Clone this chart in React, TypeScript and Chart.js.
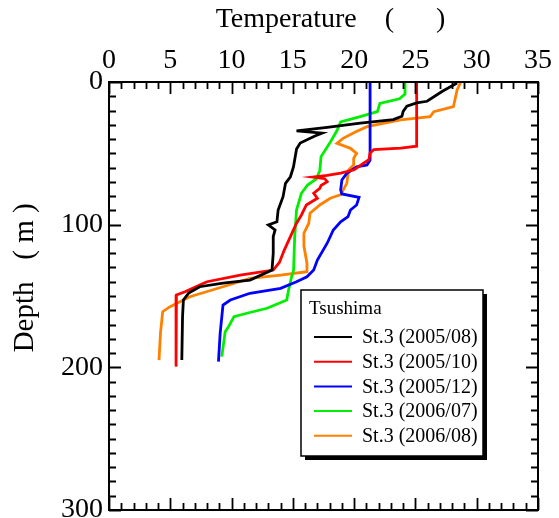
import React, { useEffect, useRef } from 'react';
import { Chart, registerables } from 'chart.js';

Chart.register(...registerables);

// ---- data (depth in m, temperature in °C) ----
const legendTitle = 'Tsushima';
const seriesLabels = ['St.3 (2005/08)', 'St.3 (2005/10)', 'St.3 (2005/12)', 'St.3 (2006/07)', 'St.3 (2006/08)'];
const seriesColors = ['#000000', '#ff0000', '#0000ff', '#00ee00', '#ff8000'];

const depth200508 = [0.7, 6.5, 13.5, 14.7, 17, 20.6, 24, 26.4, 28.8, 31.8, 34.3, 35.8, 37.9, 42.8, 46.9, 59.6, 66.4, 71, 80.4, 89.7, 98, 100.2, 103.7, 108.4, 120, 131.8, 138.8, 141, 143.5, 148, 152.8, 164.5, 194.9];
const temp200508 = [28.4, 27.2, 25.95, 25.1, 24.3, 24.0, 23.9, 23.2, 20.5, 17.8, 15.3, 17.4, 16.8, 15.6, 15.3, 15.05, 14.8, 14.4, 14.2, 13.8, 13.7, 13.0, 13.55, 13.4, 13.4, 13.3, 11.5, 9.3, 7.4, 6.5, 6.07, 6.0, 5.94];

const depth200510 = [0, 45, 46.3, 47.4, 49.8, 54.5, 61.5, 63.8, 65.4, 66.6, 67.8, 69.9, 72.5, 74.5, 78, 81.5, 86.2, 93.2, 99, 108.4, 117.8, 126.5, 131.8, 135.3, 140, 142.3, 147, 149.3, 164.5, 199.5];
const temp200510 = [25.1, 25.1, 23.8, 21.6, 21.3, 21.2, 20.0, 18.9, 17.8, 16.6, 17.6, 17.8, 17.3, 17.2, 16.7, 17.0, 16.1, 15.7, 15.3, 14.8, 14.3, 13.9, 13.4, 10.7, 8.0, 7.4, 6.2, 5.5, 5.47, 5.47];

const depth200512 = [0, 54.7, 58.2, 59.4, 64, 68.7, 75.7, 78.5, 80.9, 86.2, 89.7, 94.4, 98, 103.7, 113, 124.8, 131.8, 136.5, 140, 144.6, 148.1, 152.8, 156.3, 176, 196];
const temp200512 = [21.3, 21.3, 21.05, 20.2, 19.4, 19.0, 18.9, 19.0, 20.4, 20.2, 19.7, 19.5, 18.9, 18.3, 17.8, 17.0, 16.7, 16.15, 15.3, 14.0, 11.5, 9.9, 9.3, 9.07, 8.93];

const depth200607 = [0, 8.5, 11.8, 15, 20.8, 24.3, 28, 34, 43, 52.3, 62, 68, 72.2, 78, 83.9, 89.7, 108.4, 131.8, 136.5, 145.8, 152.8, 158.6, 162.1, 164.5, 171.5, 175, 192.5];
const temp200607 = [24.15, 24.15, 23.7, 22.1, 21.9, 20.5, 18.9, 18.6, 18.0, 17.3, 17.2, 16.9, 16.2, 15.7, 15.5, 15.3, 15.15, 15.06, 14.9, 14.65, 14.5, 12.9, 11.25, 10.2, 9.75, 9.48, 9.2];

const depth200608 = [0, 5.6, 17.3, 20.8, 24.3, 26.6, 31.3, 35, 39.5, 43, 46.5, 50, 53.5, 58.2, 61.7, 71, 79, 81.5, 86.2, 92, 99, 106, 115, 127, 133, 135.3, 137.6, 143.5, 150.5, 157.5, 161, 176, 194.9];
const temp200608 = [28.7, 28.4, 28.1, 26.5, 26.2, 23.8, 21.05, 20.1, 19.1, 18.6, 19.7, 20.2, 19.96, 19.96, 19.55, 19.4, 18.9, 18.05, 17.2, 16.4, 16.3, 15.9, 15.9, 16.15, 16.15, 14.0, 11.5, 9.3, 6.6, 4.98, 4.38, 4.2, 4.08];

const seriesDepths = [depth200508, depth200510, depth200512, depth200607, depth200608];
const seriesTemps = [temp200508, temp200510, temp200512, temp200607, temp200608];

const xMin = 0, xMax = 35, xStep = 5, xMinorStep = 1;
const yMin = 0, yMax = 300, yStep = 100, yMinorStep = 10;
const xTitle = '  Temperature    (      )';
const yTitle = '     Depth   ( m )';

const FONT = '"Liberation Serif", "Times New Roman", serif';

const framePlugin = {
  id: 'frame',
  afterDatasetsDraw(chart: any) {
    const { ctx, chartArea: a, scales } = chart;
    const x = scales.x, y = scales.y;
    ctx.save();
    ctx.strokeStyle = '#000';
    ctx.lineWidth = 2;
    ctx.strokeRect(a.left, a.top, a.right - a.left, a.bottom - a.top);
    ctx.lineWidth = 1.8;
    ctx.beginPath();
    for (let v = xMin; v <= xMax + 1e-9; v += xMinorStep) {
      const px = Math.round(x.getPixelForValue(v)) + 0.5;
      const len = Math.abs(v % xStep) < 1e-9 ? 12 : 7;
      ctx.moveTo(px, a.top); ctx.lineTo(px, a.top + len);
      ctx.moveTo(px, a.bottom); ctx.lineTo(px, a.bottom - len);
    }
    for (let v = yMin; v <= yMax + 1e-9; v += yMinorStep) {
      const py = Math.round(y.getPixelForValue(v)) + 0.5;
      const len = Math.abs(v % yStep) < 1e-9 ? 12 : 7;
      ctx.moveTo(a.left, py); ctx.lineTo(a.left + len, py);
      ctx.moveTo(a.right, py); ctx.lineTo(a.right - len, py);
    }
    ctx.stroke();
    ctx.restore();
  },
};

const legendPlugin = {
  id: 'boxLegend',
  afterDraw(chart: any) {
    const { ctx } = chart;
    const bx = 301, by = 290, bw = 182, bh = 166;
    ctx.save();
    ctx.fillStyle = '#000';
    ctx.fillRect(bx + 4, by + 4, bw, bh);
    ctx.fillStyle = '#fff';
    ctx.fillRect(bx, by, bw, bh);
    ctx.strokeStyle = '#000';
    ctx.lineWidth = 1.5;
    ctx.strokeRect(bx, by, bw, bh);
    ctx.fillStyle = '#000';
    ctx.textBaseline = 'middle';
    ctx.textAlign = 'left';
    ctx.font = `19px ${FONT}`;
    ctx.fillText(legendTitle, bx + 8, by + 19);
    ctx.font = `20px ${FONT}`;
    chart.data.datasets.forEach((ds: any, i: number) => {
      const ry = by + 47 + i * 24.7;
      ctx.strokeStyle = ds.borderColor;
      ctx.lineWidth = 2;
      ctx.beginPath();
      ctx.moveTo(bx + 13, ry);
      ctx.lineTo(bx + 51, ry);
      ctx.stroke();
      ctx.fillStyle = '#000';
      ctx.fillText(ds.label, bx + 61, ry + 1);
    });
    ctx.restore();
  },
};

export default function App() {
  const ref = useRef<HTMLCanvasElement>(null);
  useEffect(() => {
    if (!ref.current) return;
    const datasets = seriesLabels.map((label, i) => ({
      label,
      data: seriesDepths[i].map((d, j) => ({ x: seriesTemps[i][j], y: d })),
      borderColor: seriesColors[i],
      backgroundColor: seriesColors[i],
      borderWidth: 2.8,
      pointRadius: 0,
      showLine: true,
      tension: 0,
      fill: false,
    }));
    const chart = new Chart(ref.current, {
      type: 'scatter',
      data: { datasets },
      options: {
        responsive: false,
        animation: false,
        devicePixelRatio: 1,
        layout: { padding: { left: 0, top: 0, right: 21, bottom: 8 } },
        plugins: { legend: { display: false }, tooltip: { enabled: false } },
        scales: {
          x: {
            type: 'linear',
            position: 'top',
            min: xMin,
            max: xMax,
            ticks: { stepSize: xStep, color: '#000', padding: 7, font: { family: FONT, size: 28, lineHeight: 1 } },
            grid: { display: false, drawTicks: false },
            border: { display: false },
            title: { display: true, text: xTitle, color: '#000', padding: { top: 6, bottom: 0 }, font: { family: FONT, size: 28, lineHeight: 1 } },
            afterFit: (s: any) => { s.height = 82; s.paddingLeft = 0; s.paddingRight = 0; },
          },
          y: {
            type: 'linear',
            reverse: true,
            min: yMin,
            max: yMax,
            ticks: { stepSize: yStep, color: '#000', padding: 6, font: { family: FONT, size: 28, lineHeight: 1 } },
            grid: { display: false, drawTicks: false },
            border: { display: false },
            title: { display: true, text: yTitle, color: '#000', padding: { top: 11, bottom: 0 }, font: { family: FONT, size: 29, lineHeight: 1 } },
            afterFit: (s: any) => { s.width = 109; s.paddingTop = 0; s.paddingBottom = 0; },
          },
        },
      },
      plugins: [framePlugin, legendPlugin],
    });
    return () => chart.destroy();
  }, []);
  return (
    <div style={{ position: 'absolute', left: 0, top: 0, width: 559, height: 518, background: '#fff' }}>
      <canvas ref={ref} width={559} height={518} style={{ display: 'block' }} />
    </div>
  );
}
